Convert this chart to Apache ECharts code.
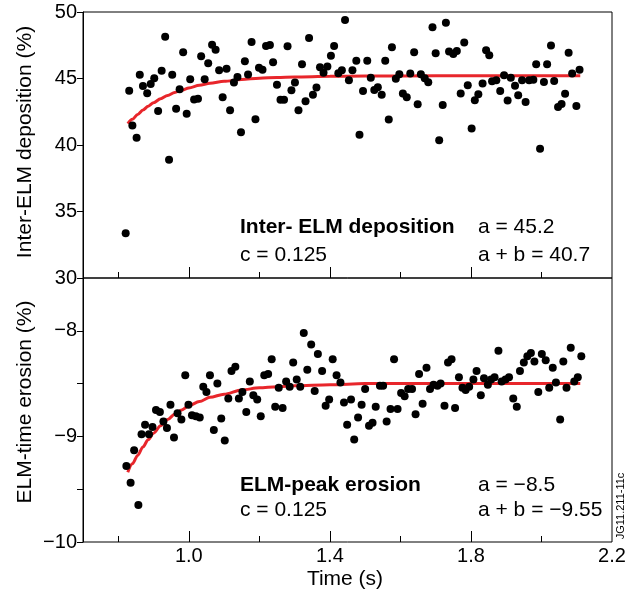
<!DOCTYPE html>
<html>
<head>
<meta charset="utf-8">
<script src="https://cdn.jsdelivr.net/npm/echarts@6/dist/echarts.min.js"></script>
<style>
html,body{margin:0;padding:0;background:#fff;}
#chart{width:639px;height:599px;}
</style>
</head>
<body>
<div id="chart"></div>
<script>
// ---- data ----
const topTime = [0.821,0.831,0.840,0.852,0.861,0.870,0.882,0.892,0.902,0.913,
0.923,0.933,0.944,0.953,0.964,0.974,0.984,0.994,1.004,1.015,
1.026,1.035,1.045,1.055,1.066,1.076,1.086,1.096,1.107,1.117,
1.128,1.138,1.148,1.159,1.168,1.178,1.189,1.199,1.209,1.219,
1.230,1.239,1.250,1.260,1.270,1.280,1.291,1.301,1.311,1.321,
1.331,1.341,1.352,1.362,1.372,1.382,1.393,1.403,1.412,1.424,
1.434,1.443,1.454,1.464,1.475,1.484,1.494,1.506,1.516,1.526,
1.536,1.547,1.557,1.567,1.576,1.587,1.597,1.607,1.618,1.628,
1.639,1.649,1.658,1.669,1.679,1.691,1.700,1.710,1.720,1.729,
1.738,1.750,1.760,1.771,1.781,1.791,1.802,1.811,1.821,1.833,
1.843,1.852,1.860,1.872,1.883,1.894,1.904,1.913,1.925,1.934,
1.945,1.955,1.965,1.977,1.985,1.996,2.007,2.016,2.027,2.036,
2.047,2.057,2.067,2.077,2.087,2.099,2.108];
const topDeposition = [33.36,44.08,41.47,40.54,45.28,44.44,43.89,44.59,45.02,42.56,
45.59,48.14,38.89,45.29,42.72,44.19,46.97,42.35,44.95,43.42,
43.47,46.67,44.94,46.14,47.53,47.17,45.62,43.59,45.73,42.61,
44.70,45.11,40.96,46.29,45.30,47.74,41.94,45.80,45.65,47.44,
47.52,46.22,44.53,43.41,43.41,47.42,44.11,44.70,42.61,46.07,
43.29,48.05,43.77,44.32,45.85,45.44,45.90,46.71,47.44,45.39,
45.62,49.40,44.87,45.62,46.33,40.77,44.06,46.34,45.06,44.14,
44.35,43.77,46.34,41.92,47.35,44.98,45.32,43.87,43.59,45.38,
46.98,43.06,45.32,45.02,44.72,48.85,46.89,40.36,43.01,49.20,
47.03,46.84,47.07,43.87,47.71,44.50,41.24,43.37,43.82,44.62,
47.13,46.74,44.80,44.87,44.06,45.25,43.35,45.05,44.45,43.74,
44.87,43.23,44.86,44.90,46.08,39.71,44.74,46.08,47.48,44.81,
42.86,43.08,43.85,46.94,45.38,42.93,45.65];

const bottomTime = [0.823,0.835,0.845,0.857,0.866,0.876,0.887,0.897,0.907,0.918,
0.928,0.938,0.948,0.958,0.968,0.979,0.990,0.999,1.009,1.020,
1.031,1.041,1.050,1.060,1.071,1.081,1.092,1.102,1.112,1.121,
1.132,1.142,1.152,1.163,1.173,1.183,1.194,1.204,1.214,1.225,
1.235,1.245,1.255,1.266,1.276,1.286,1.296,1.306,1.316,1.326,
1.336,1.347,1.357,1.366,1.378,1.388,1.398,1.408,1.419,1.430,
1.440,1.449,1.460,1.469,1.480,1.490,1.500,1.511,1.521,1.530,
1.542,1.551,1.561,1.572,1.582,1.592,1.602,1.612,1.622,1.633,
1.643,1.653,1.663,1.674,1.684,1.694,1.705,1.714,1.725,1.735,
1.745,1.755,1.766,1.776,1.785,1.795,1.807,1.816,1.828,1.837,
1.848,1.857,1.867,1.878,1.887,1.898,1.908,1.920,1.930,1.939,
1.950,1.960,1.970,1.980,1.991,2.001,2.012,2.022,2.032,2.041,
2.053,2.062,2.071,2.083,2.093,2.103,2.113];
const bottomErosion = [-9.28,-9.44,-9.13,-9.65,-8.98,-8.89,-8.98,-8.91,-8.75,-8.77,
-8.86,-8.92,-8.70,-9.01,-8.78,-8.84,-8.42,-8.70,-8.80,-8.81,
-8.82,-8.53,-8.58,-8.42,-8.94,-8.50,-8.83,-9.04,-8.64,-8.38,
-8.34,-8.64,-8.58,-8.77,-8.48,-8.61,-8.65,-8.81,-8.42,-8.41,
-8.27,-8.72,-8.54,-8.73,-8.48,-8.53,-8.30,-8.46,-8.53,-8.02,
-8.37,-8.13,-8.57,-8.22,-8.38,-8.71,-8.65,-8.27,-8.42,-8.49,
-8.68,-8.89,-8.65,-9.03,-8.82,-8.70,-8.55,-8.90,-8.87,-8.72,
-8.52,-8.52,-8.86,-8.74,-8.27,-8.74,-8.59,-8.62,-8.55,-8.55,
-8.79,-8.41,-8.69,-8.35,-8.55,-8.51,-8.52,-8.50,-8.71,-8.30,
-8.27,-8.73,-8.44,-8.54,-8.56,-8.53,-8.46,-8.38,-8.61,-8.45,
-8.51,-8.46,-8.44,-8.19,-8.48,-8.46,-8.44,-8.64,-8.72,-8.38,
-8.30,-8.24,-8.21,-8.29,-8.58,-8.22,-8.28,-8.54,-8.35,-8.49,
-8.84,-8.29,-8.54,-8.16,-8.48,-8.44,-8.24];

// red fitted curves
const fitTime = [0.827,0.84,0.855,0.87,0.885,0.90,0.92,0.94,0.96,0.98,1.00,1.03,1.06,1.10,1.15,1.20,1.25,1.30,1.40,1.50,1.70,2.11];
const topFit = [41.6,41.93,42.3,42.63,42.92,43.18,43.48,43.73,43.95,44.13,44.29,44.49,44.64,44.79,44.93,45.02,45.08,45.12,45.16,45.18,45.2,45.2];
const bottomFit = [-9.34,-9.26,-9.18,-9.1,-9.03,-8.97,-8.9,-8.84,-8.79,-8.75,-8.71,-8.67,-8.63,-8.6,-8.56,-8.54,-8.53,-8.52,-8.51,-8.5,-8.5,-8.5];

// axis ticks
const xMajorTicks = [1.0,1.4,1.8,2.2];
const xMinorTicks = [0.8,1.2,1.6,2.0];
const xTickLabels = ['1.0','1.4','1.8','2.2'];
const bottomYLabels = [-8,-9,-10];

const topTexts = {title:'Inter- ELM deposition', a:'a = 45.2', c:'c = 0.125', ab:'a + b = 40.7'};
const bottomTexts = {title:'ELM-peak erosion', a:'a = \u22128.5', c:'c = 0.125', ab:'a + b = \u22129.55'};

// ---- chart ----
const FONT = '"Liberation Sans", Arial, Helvetica, sans-serif';
const pair = (xs, ys) => xs.map((x, i) => [x, ys[i]]);
const chart = echarts.init(document.getElementById('chart'), null, {renderer:'canvas'});

function xAx(grid, ticks, len, labels) {
  return {
    type:'value', gridIndex:grid, min:0.7, max:2.2, position:'bottom',
    axisLine:{show:false},
    splitLine:{show:false},
    axisTick:{show:true, inside:true, length:len, customValues:ticks, lineStyle:{color:'#000', width:1}},
    axisLabel:{show:!!labels, customValues:xMajorTicks, margin:4, color:'#000', fontSize:20, fontFamily:FONT,
      formatter: v => { const i = xMajorTicks.findIndex(t => Math.abs(t - v) < 1e-6); return i >= 0 ? xTickLabels[i] : ''; }}
  };
}

const txt = (s, x, y, bold) => ({type:'text', x:x, y:y, z:50,
  style:{text:s, fill:'#000', font:(bold?'bold ':'') + '21px ' + FONT, textAlign:'left', textVerticalAlign:'middle'}});

chart.setOption({
  animation:false,
  backgroundColor:'#fff',
  grid:[
    {left:83, top:12, width:529, height:266, show:true, borderColor:'#000', borderWidth:1, backgroundColor:'transparent'},
    {left:83, top:278, width:529, height:264, show:true, borderColor:'#000', borderWidth:1, backgroundColor:'transparent'}
  ],
  xAxis:[
    xAx(0, [1.0,1.4,1.8], 11, false),
    xAx(0, xMinorTicks, 6, false),
    xAx(1, [1.0,1.4,1.8], 11, true),
    xAx(1, xMinorTicks, 6, false)
  ],
  yAxis:[
    {type:'value', gridIndex:0, min:30, max:50, interval:5,
     axisLine:{show:true, lineStyle:{color:'#000'}},
     axisTick:{show:true, inside:false, length:6, lineStyle:{color:'#000'}},
     splitLine:{show:false},
     axisLabel:{margin:6, color:'#000', fontSize:20, fontFamily:FONT}},
    {type:'value', gridIndex:1, min:-10, max:-7.5, interval:0.5,
     axisLine:{show:true, lineStyle:{color:'#000'}},
     axisTick:{show:true, inside:false, length:6, lineStyle:{color:'#000'}},
     splitLine:{show:false},
     axisLabel:{margin:6, color:'#000', fontSize:20, fontFamily:FONT,
       formatter: v => bottomYLabels.some(t => Math.abs(t - v) < 1e-6) ? String(Math.round(v)).replace('-', '\u2212') : ''}}
  ],
  series:[
    {type:'line', xAxisIndex:0, yAxisIndex:0, data:pair(fitTime, topFit), smooth:0.3, smoothMonotone:'x',
     showSymbol:false, lineStyle:{color:'#e8262b', width:3}, z:2},
    {type:'scatter', xAxisIndex:0, yAxisIndex:0, data:pair(topTime, topDeposition), symbolSize:8,
     itemStyle:{color:'#000', opacity:1}, z:3},
    {type:'line', xAxisIndex:2, yAxisIndex:1, data:pair(fitTime, bottomFit), smooth:0.3, smoothMonotone:'x',
     showSymbol:false, lineStyle:{color:'#e8262b', width:3}, z:2},
    {type:'scatter', xAxisIndex:2, yAxisIndex:1, data:pair(bottomTime, bottomErosion), symbolSize:8,
     itemStyle:{color:'#000', opacity:1}, z:3}
  ],
  graphic:[
    txt(topTexts.title, 240, 227, true),
    txt(topTexts.a, 478, 227, false),
    txt(topTexts.c, 240, 255, false),
    txt(topTexts.ab, 478, 255, false),
    txt(bottomTexts.title, 240, 485, true),
    txt(bottomTexts.a, 478, 485, false),
    txt(bottomTexts.c, 240, 510, false),
    txt(bottomTexts.ab, 478, 510, false),
    {type:'text', x:25, y:142, rotation:Math.PI/2, z:50,
     style:{text:'Inter-ELM deposition (%)', fill:'#000', font:'21px ' + FONT, textAlign:'center', textVerticalAlign:'middle'}},
    {type:'text', x:25, y:402, rotation:Math.PI/2, z:50,
     style:{text:'ELM-time erosion (%)', fill:'#000', font:'21px ' + FONT, textAlign:'center', textVerticalAlign:'middle'}},
    {type:'text', x:345, y:579, z:50,
     style:{text:'Time (s)', fill:'#000', font:'21px ' + FONT, textAlign:'center', textVerticalAlign:'middle'}},
    {type:'text', x:621, y:506, rotation:Math.PI/2, z:50,
     style:{text:'JG11.211-11c', fill:'#000', font:'11px ' + FONT, textAlign:'center', textVerticalAlign:'middle'}}
  ]
});
</script>
</body>
</html>
